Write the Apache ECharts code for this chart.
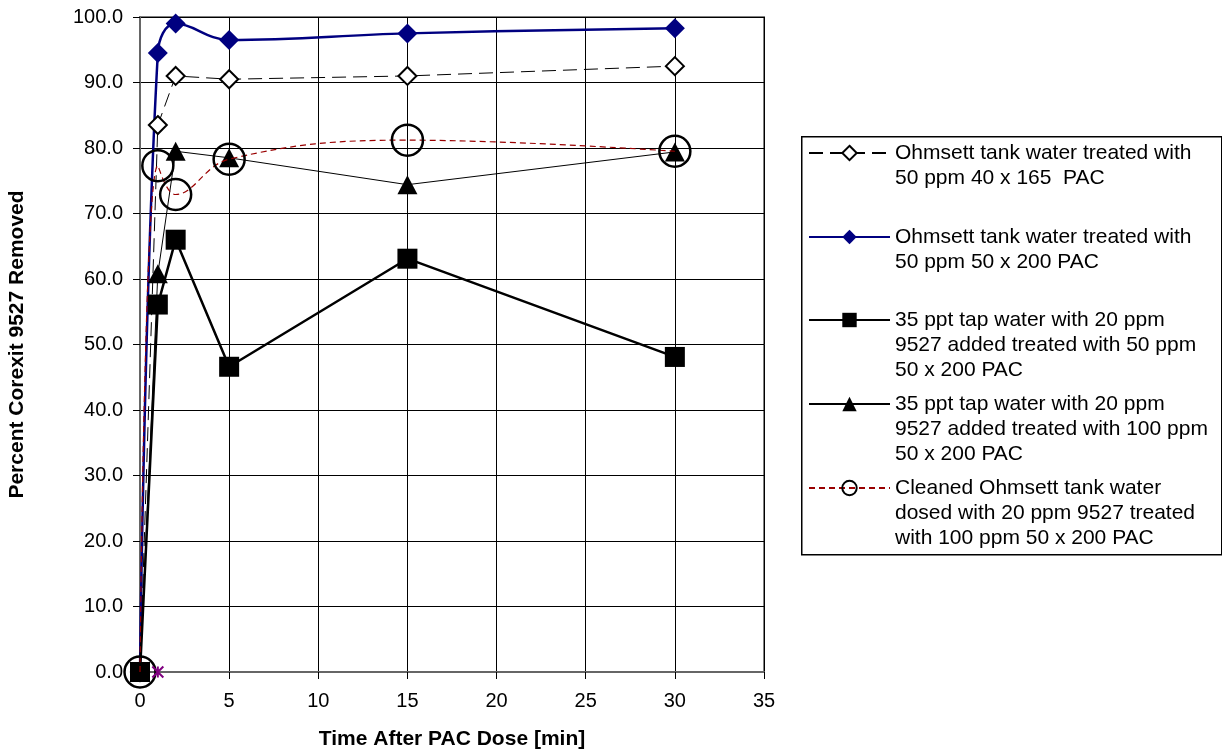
<!DOCTYPE html>
<html>
<head>
<meta charset="utf-8">
<script src="https://cdn.jsdelivr.net/npm/echarts@6/dist/echarts.min.js"></script>
<style>
html,body{margin:0;padding:0;background:#fff;}
#chart{width:1222px;height:753px;}
</style>
</head>
<body>
<div id="chart"></div>
<script>
// ---- data ----
const timeMin = [0, 1, 2, 5, 15, 30];
const ohmsett40x165 = [0, 83.5, 91.0, 90.5, 91.0, 92.5];
const ohmsett50x200 = [0, 94.5, 99.0, 96.5, 97.5, 98.3];
const tap50ppm = [0, 56.1, 66.0, 46.6, 63.1, 48.1];
const tap100ppm = [0, 60.8, 79.5, 78.5, 74.4, 79.4];
const cleanedOhmsett = [0, 77.3, 72.9, 78.3, 81.2, 79.5];
const strayPointX = [1];
const strayPointY = [0];
const seriesNames = [
  'Ohmsett tank water treated with\n50 ppm 40 x 165  PAC',
  'Ohmsett tank water treated with\n50 ppm 50 x 200 PAC',
  '35 ppt tap water with 20 ppm\n9527 added treated with 50 ppm\n50 x 200 PAC',
  '35 ppt tap water with 20 ppm\n9527 added treated with 100 ppm\n50 x 200 PAC',
  'Cleaned Ohmsett tank water\ndosed with 20 ppm 9527 treated\nwith 100 ppm 50 x 200 PAC'
];
const xAxisTitle = 'Time After PAC Dose [min]';
const yAxisTitle = 'Percent Corexit 9527 Removed';

const pairs = (xs, ys) => xs.map((x, i) => [x, ys[i]]);
const FONT = '"Liberation Sans", Arial, sans-serif';

const legendIconY = [153, 237, 320, 404, 488];
const LH = 25;
const legends = seriesNames.map((name, i) => {
  const n = name.split('\n').length;
  return {
    data: [name],
    left: 808,
    top: legendIconY[i] - ((n - 1) * LH + LH / 2),
    orient: 'vertical',
    padding: 0,
    itemWidth: 81,
    itemHeight: 18,
    selectedMode: false,
    formatter: nm => '\n'.repeat(n - 1) + nm,
    textStyle: {fontFamily: FONT, fontSize: 21, color: '#000', lineHeight: LH}
  };
});

const chart = echarts.init(document.getElementById('chart'), null, {renderer: 'canvas'});
chart.setOption({
  backgroundColor: '#fff',
  animation: false,
  grid: {left: 140, right: 458, top: 17, bottom: 81, containLabel: false, outerBoundsMode: 'none',
         show: true, borderColor: '#808080', borderWidth: 2, backgroundColor: '#fff'},
  legend: legends,
  graphic: [{
    type: 'rect', left: 801, top: 136, z: -1,
    shape: {width: 420, height: 418},
    style: {fill: '#fff', stroke: '#000', lineWidth: 1.5}
  }],
  xAxis: {
    type: 'value', min: 0, max: 35, interval: 5,
    name: xAxisTitle, nameLocation: 'middle', nameGap: 57,
    nameTextStyle: {fontFamily: FONT, fontSize: 21, fontWeight: 'bold', color: '#000'},
    axisLine: {show: true, onZero: false, lineStyle: {color: '#666', width: 2}},
    axisTick: {show: true, inside: false, length: 7, lineStyle: {color: '#000'}},
    axisLabel: {fontFamily: FONT, fontSize: 20, color: '#000', margin: 19},
    splitLine: {show: true, lineStyle: {color: '#000', width: 1}}
  },
  yAxis: {
    type: 'value', min: 0, max: 100, interval: 10,
    name: yAxisTitle, nameLocation: 'middle', nameGap: 112,
    nameTextStyle: {fontFamily: FONT, fontSize: 21, fontWeight: 'bold', color: '#000'},
    axisLine: {show: true, onZero: false, lineStyle: {color: '#666', width: 2}},
    axisTick: {show: true, inside: false, length: 7, lineStyle: {color: '#000'}},
    axisLabel: {fontFamily: FONT, fontSize: 20, color: '#000', margin: 17, formatter: v => v.toFixed(1)},
    splitLine: {show: true, lineStyle: {color: '#000', width: 1}}
  },
  series: [
    {
      name: seriesNames[0], type: 'line', data: pairs(timeMin, ohmsett40x165),
      symbol: 'diamond', symbolSize: 18, z: 3,
      itemStyle: {color: '#fff', borderColor: '#000', borderWidth: 2},
      lineStyle: {color: '#000', width: 1, type: [14, 7]}
    },
    {
      name: seriesNames[1], type: 'line', data: pairs(timeMin, ohmsett50x200),
      symbol: 'diamond', symbolSize: 20, smooth: 0.4, z: 3,
      itemStyle: {color: '#000080'},
      lineStyle: {color: '#000080', width: 2.5}
    },
    {
      name: seriesNames[2], type: 'line', data: pairs(timeMin, tap50ppm),
      symbol: 'rect', symbolSize: 20, z: 4,
      itemStyle: {color: '#000'},
      lineStyle: {color: '#000', width: 2.5}
    },
    {
      name: seriesNames[3], type: 'line', data: pairs(timeMin, tap100ppm),
      symbol: 'triangle', symbolSize: [20, 19], z: 4,
      itemStyle: {color: '#000'},
      lineStyle: {color: '#000', width: 1}
    },
    {
      name: seriesNames[4], type: 'line', data: pairs(timeMin, cleanedOhmsett),
      symbol: 'circle', symbolSize: 31, smooth: 0.4, z: 5,
      itemStyle: {color: 'rgba(255,255,255,0)', borderColor: '#000', borderWidth: 2.5},
      lineStyle: {color: '#990000', width: 1.2, type: [6, 4]}
    },
    {
      name: 'stray', type: 'line', data: pairs(strayPointX, strayPointY),
      symbol: 'path://M0,0L10,10M10,0L0,10M5,0L5,10', symbolSize: 11, z: 6,
      itemStyle: {color: '#800080', borderColor: '#800080', borderWidth: 2},
      lineStyle: {width: 0}
    }
  ]
});
</script>
</body>
</html>
